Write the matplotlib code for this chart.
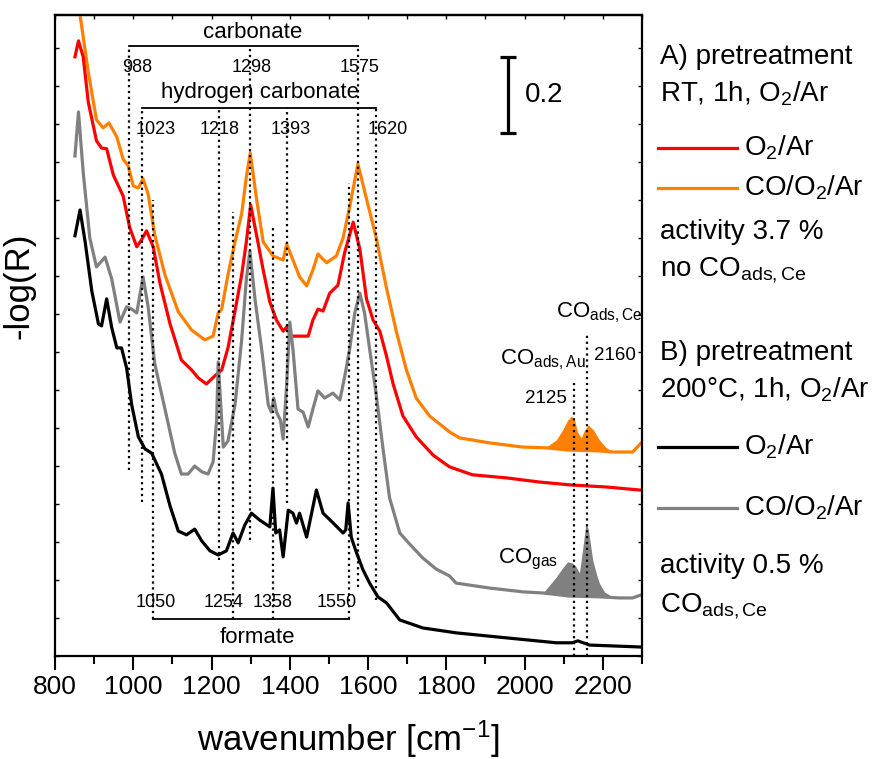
import numpy as np
import matplotlib
matplotlib.use("Agg")
import matplotlib.pyplot as plt
from matplotlib.lines import Line2D
from matplotlib.ticker import MultipleLocator

plt.rcParams['font.family'] = ['Liberation Sans', 'DejaVu Sans']
plt.rcParams['mathtext.fontset'] = 'custom'
plt.rcParams['mathtext.rm'] = 'Liberation Sans'
plt.rcParams['mathtext.it'] = 'Liberation Sans:italic'

# spektri (talasni broj, -log(R))
orange_x = [851, 864, 885, 906, 923, 938, 958, 974, 987, 1000, 1013, 1025, 1038, 1055, 1081, 1115, 1149, 1183, 1204, 1217,
            1226, 1242, 1260, 1277, 1289, 1299, 1315, 1332, 1357, 1383, 1392, 1404, 1425, 1443, 1459, 1472, 1494, 1519, 1536, 1553,
            1574, 1596, 1621, 1647, 1672, 1698, 1723, 1757, 1808, 1834, 1911, 1995, 2055, 2115, 2191, 2225, 2276, 2298]
orange_y = [1.765, 1.686, 1.536, 1.410, 1.389, 1.402, 1.365, 1.307, 1.289, 1.236, 1.231, 1.255, 1.215, 1.107, 1.002, 0.905, 0.857, 0.831, 0.841, 0.902,
            0.912, 1.002, 1.089, 1.163, 1.260, 1.323, 1.202, 1.089, 1.052, 1.041, 1.083, 1.052, 0.997, 0.973, 1.015, 1.057, 1.034, 1.052, 1.099, 1.181,
            1.294, 1.202, 1.099, 0.968, 0.854, 0.752, 0.678, 0.631, 0.589, 0.573, 0.560, 0.549, 0.547, 0.541, 0.539, 0.536, 0.536, 0.560]

red_x = [851, 860, 872, 885, 906, 919, 932, 949, 974, 991, 1009, 1021, 1034, 1051, 1068, 1094, 1123, 1149, 1166, 1187,
         1208, 1226, 1242, 1260, 1277, 1289, 1300, 1315, 1332, 1349, 1366, 1383, 1392, 1404, 1425, 1447, 1459, 1472, 1485, 1502,
         1523, 1540, 1562, 1579, 1596, 1613, 1630, 1647, 1664, 1689, 1723, 1766, 1808, 1867, 1953, 2038, 2122, 2208, 2294]
red_y = [1.576, 1.618, 1.576, 1.457, 1.355, 1.336, 1.334, 1.265, 1.210, 1.126, 1.076, 1.094, 1.118, 1.076, 0.981, 0.873, 0.778, 0.752, 0.731, 0.715,
         0.736, 0.752, 0.810, 0.907, 1.002, 1.089, 1.186, 1.107, 1.015, 0.931, 0.883, 0.854, 0.865, 0.841, 0.841, 0.841, 0.883, 0.912, 0.907, 0.954,
         0.975, 1.060, 1.141, 1.070, 0.939, 0.883, 0.854, 0.789, 0.715, 0.631, 0.576, 0.528, 0.497, 0.476, 0.468, 0.457, 0.449, 0.444, 0.436]

gray_x = [851, 860, 872, 889, 906, 928, 945, 966, 983, 996, 1009, 1025, 1038, 1055, 1081, 1106, 1123, 1140, 1157, 1175,
          1191, 1204, 1213, 1217, 1223, 1230, 1242, 1260, 1277, 1289, 1298, 1311, 1328, 1345, 1353, 1359, 1366, 1376, 1383, 1392,
          1400, 1408, 1421, 1434, 1447, 1459, 1472, 1489, 1510, 1528, 1540, 1553, 1566, 1579, 1591, 1604, 1621, 1638, 1655, 1681,
          1706, 1740, 1774, 1808, 1825, 1911, 1996, 2047, 2115, 2191, 2242, 2276, 2298]
gray_y = [1.315, 1.431, 1.273, 1.099, 1.023, 1.049, 0.991, 0.878, 0.918, 0.912, 0.902, 0.997, 0.918, 0.768, 0.649, 0.533, 0.478, 0.478, 0.499, 0.484,
          0.478, 0.510, 0.618, 0.773, 0.670, 0.549, 0.565, 0.660, 0.831, 0.991, 1.065, 0.939, 0.807, 0.660, 0.641, 0.678, 0.641, 0.620, 0.570, 0.715,
          0.878, 0.807, 0.649, 0.641, 0.602, 0.649, 0.697, 0.678, 0.691, 0.673, 0.733, 0.807, 0.902, 0.954, 0.902, 0.807, 0.686, 0.546, 0.415, 0.323,
          0.294, 0.257, 0.228, 0.210, 0.191, 0.178, 0.168, 0.165, 0.157, 0.155, 0.152, 0.152, 0.160]

black_x = [851, 864, 877, 894, 911, 919, 932, 945, 958, 970, 983, 996, 1013, 1030, 1047, 1072, 1094, 1115, 1136, 1157,
           1175, 1196, 1217, 1238, 1255, 1268, 1285, 1302, 1323, 1349, 1357, 1364, 1374, 1383, 1396, 1408, 1417, 1425, 1443, 1468,
           1485, 1511, 1536, 1543, 1549, 1557, 1568, 1587, 1604, 1625, 1647, 1681, 1740, 1826, 1953, 2081, 2122, 2136, 2166, 2294]
black_y = [1.105, 1.173, 1.089, 0.960, 0.873, 0.868, 0.939, 0.863, 0.810, 0.810, 0.757, 0.660, 0.576, 0.544, 0.533, 0.478, 0.394, 0.328, 0.318, 0.333,
           0.302, 0.276, 0.265, 0.276, 0.323, 0.297, 0.344, 0.375, 0.357, 0.339, 0.441, 0.323, 0.331, 0.260, 0.383, 0.375, 0.349, 0.375, 0.312, 0.436,
           0.375, 0.349, 0.323, 0.331, 0.402, 0.312, 0.278, 0.226, 0.191, 0.155, 0.139, 0.094, 0.073, 0.060, 0.047, 0.034, 0.034, 0.039, 0.028, 0.023]

# CO trake (gornja anvelopa popunjenog dela)
orange_band_x = [2055, 2081, 2097, 2110, 2120, 2128, 2135, 2145, 2153, 2163, 2176, 2191, 2207, 2222]
orange_band_top = [0.549, 0.568, 0.594, 0.620, 0.631, 0.620, 0.589, 0.573, 0.594, 0.607, 0.594, 0.568, 0.549, 0.539]
gray_band_x = [2047, 2081, 2097, 2110, 2122, 2132, 2140, 2148, 2157, 2163, 2174, 2184, 2191, 2204, 2217]
gray_band_top = [0.165, 0.207, 0.231, 0.247, 0.244, 0.233, 0.218, 0.278, 0.349, 0.331, 0.252, 0.213, 0.191, 0.168, 0.160]

# isprekidane linije
vline_x = [988, 1023, 1050, 1218, 1254, 1298, 1358, 1393, 1550, 1575, 1620, 2125, 2160]
vline_bottom = [0.489, 0.405, 0.097, 0.252, 0.097, 0.304, 0.097, 0.401, 0.097, 0.181, 0.147, 0.0, 0.0]
vline_top = [1.604, 1.441, 1.199, 1.441, 1.168, 1.604, 1.128, 1.441, 1.243, 1.604, 1.441, 0.717, 0.844]

peak_labels = ['988', '1298', '1575', '1023', '1218', '1393', '1620', '1050', '1254', '1358', '1550']
peak_label_x = [1009, 1303, 1579, 1058, 1221, 1402, 1650, 1058, 1230, 1357, 1520]
peak_label_y = [1.549, 1.549, 1.549, 1.386, 1.386, 1.386, 1.386, 0.139, 0.139, 0.139, 0.139]

fig = plt.figure(figsize=(8.72, 7.59), dpi=100)
ax = fig.add_axes([55/872, (759-655.7)/759, (642-55)/872, (655.7-15)/759])

lw = 2.3
ax.fill_between(orange_band_x, np.interp(orange_band_x, orange_x, orange_y), orange_band_top, color='#FF8000', lw=0)
ax.fill_between(gray_band_x, np.interp(gray_band_x, gray_x, gray_y), gray_band_top, color='#808080', lw=0)
ax.plot(orange_x, orange_y, color='#FF8000', lw=lw)
ax.plot(red_x, red_y, color='#FF0000', lw=lw)
ax.plot(gray_x, gray_y, color='#808080', lw=lw)
ax.plot(black_x, black_y, color='black', lw=lw)

for x, y0, y1 in zip(vline_x, vline_bottom, vline_top):
    ax.plot([x, x], [y0, y1], color='black', ls=':', lw=1.6, zorder=4)

# zagrade
ax.plot([988, 1575], [1.604, 1.604], color='black', lw=1.3)
ax.plot([1023, 1620], [1.441, 1.441], color='black', lw=1.3)
ax.plot([1050, 1550], [0.097, 0.097], color='black', lw=1.3)
ax.text(1305, 1.639, 'carbonate', ha='center', va='center', fontsize=16)
ax.text(1323, 1.481, 'hydrogen carbonate', ha='center', va='center', fontsize=16)
ax.text(1316, 0.049, 'formate', ha='center', va='center', fontsize=16)

for t, x, y in zip(peak_labels, peak_label_x, peak_label_y):
    ax.text(x, y, t, ha='center', va='center', fontsize=13)

ax.text(2046, 0.778, r'CO$_{\mathrm{ads,Au}}$', ha='center', va='center', fontsize=16)
ax.text(2054, 0.678, '2125', ha='center', va='center', fontsize=13.5)
ax.text(2191, 0.902, r'CO$_{\mathrm{ads,Ce}}$', ha='center', va='center', fontsize=16)
ax.text(2232, 0.791, '2160', ha='center', va='center', fontsize=13.5)
ax.text(2010, 0.252, r'CO$_{\mathrm{gas}}$', ha='center', va='center', fontsize=16)

# skala 0.2
ax.errorbar([1957], [1.476], yerr=[0.1], color='black', lw=2.3, capsize=6, capthick=2.3)
ax.text(2000, 1.476, '0.2', ha='left', va='center', fontsize=20)

ax.set_xlim(800, 2300)
ax.set_ylim(0, 1.686)
ax.xaxis.set_major_locator(MultipleLocator(200))
ax.xaxis.set_minor_locator(MultipleLocator(100))
ax.yaxis.set_major_locator(MultipleLocator(0.1))
ax.tick_params(axis='x', which='major', direction='out', length=10, width=1.5, labelsize=19, pad=4)
ax.tick_params(axis='x', which='minor', direction='out', length=5.5, width=1.5)
ax.tick_params(axis='y', which='both', direction='in', length=3, width=1, left=True, right=True, labelleft=False)
top = ax.secondary_xaxis('top')
top.xaxis.set_major_locator(MultipleLocator(100))
top.tick_params(direction='in', length=3, width=1, labeltop=False)
for s in ax.spines.values():
    s.set_linewidth(1.6)
top.spines['top'].set_linewidth(1.6)

ax.set_xlabel('wavenumber [cm$^{-1}$]', fontsize=25, labelpad=14)
ax.set_ylabel('-log(R)', fontsize=25)
ax.yaxis.set_label_coords(-0.034, 0.577)

# desna legenda
def ftext(px, py, s):
    fig.text(px/872, 1-py/759, s, ha='left', va='center', fontsize=20)

def fline(py, c):
    fig.add_artist(Line2D([658/872, 737/872], [1-py/759, 1-py/759], color=c, lw=2.3))

ftext(660, 57, 'A) pretreatment')
ftext(660, 94, 'RT, 1h, O$_2$/Ar')
fline(148, '#FF0000')
ftext(744, 148, 'O$_2$/Ar')
fline(188, '#FF8000')
ftext(744, 188, 'CO/O$_2$/Ar')
ftext(660, 232, 'activity 3.7 %')
ftext(660, 270, r'no CO$_{\mathrm{ads,Ce}}$')
ftext(660, 353, 'B) pretreatment')
ftext(660, 390, '200°C, 1h, O$_2$/Ar')
fline(447, 'black')
ftext(744, 447, 'O$_2$/Ar')
fline(508, '#808080')
ftext(744, 508, 'CO/O$_2$/Ar')
ftext(660, 566, 'activity 0.5 %')
ftext(660, 606, r'CO$_{\mathrm{ads,Ce}}$')

fig.savefig('out.png', dpi=100)
